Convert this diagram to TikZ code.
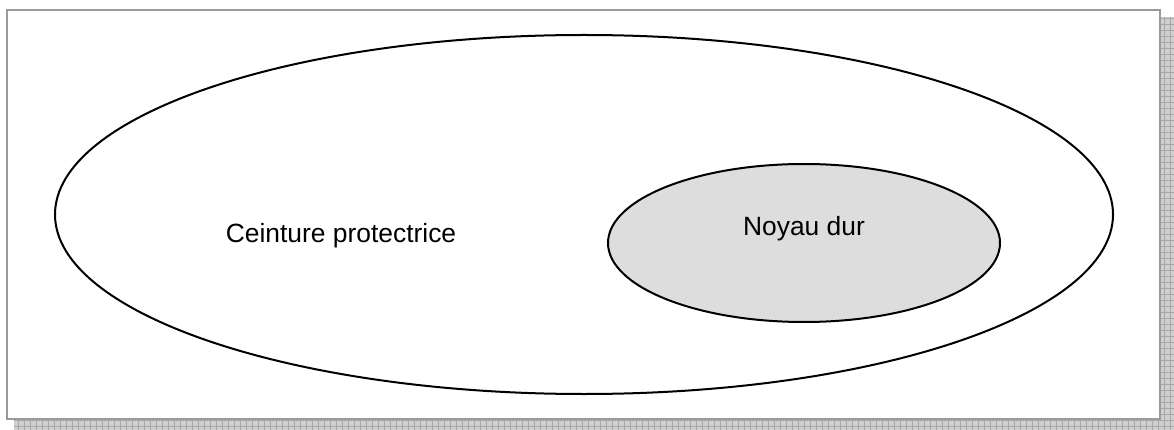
\documentclass[tikz,border=0pt]{standalone}
\usepackage{fontspec}
\setmainfont{Liberation Sans}
\definecolor{framegray}{HTML}{9A9A9A}
\definecolor{shadowfill}{HTML}{CFCFCF}
\definecolor{shadowline}{HTML}{A8A8A8}
\definecolor{corefill}{HTML}{DDDDDD}
\begin{document}
\begin{tikzpicture}[x=1pt,y=-1pt,
  ell/.style={draw=black,line width=2pt},
  lbl/.style={font=\fontsize{26.4}{30}\selectfont,inner sep=0pt,anchor=base}]
\useasboundingbox (0,0) rectangle (1174,430);
% shadow
\begin{scope}
  \clip (14,17) rectangle (1174,430);
  \fill[shadowfill] (14,17) rectangle (1174,430);
  \draw[shadowline,line width=0.8pt,step=6pt] (14,17) grid (1174,430);
\end{scope}
% frame
\draw[framegray,fill=white,line width=2pt] (7,10) rectangle (1160,419);
% ellipses
\draw[ell,fill=white] (584,214.5) ellipse [x radius=529, y radius=179.5];
\draw[ell,fill=corefill] (804,243) ellipse [x radius=196, y radius=79];
\node[lbl] (belt) at (341,243) {Ceinture protectrice};
\node[lbl] (core) at (804,236) {Noyau dur};
\end{tikzpicture}
\end{document}
